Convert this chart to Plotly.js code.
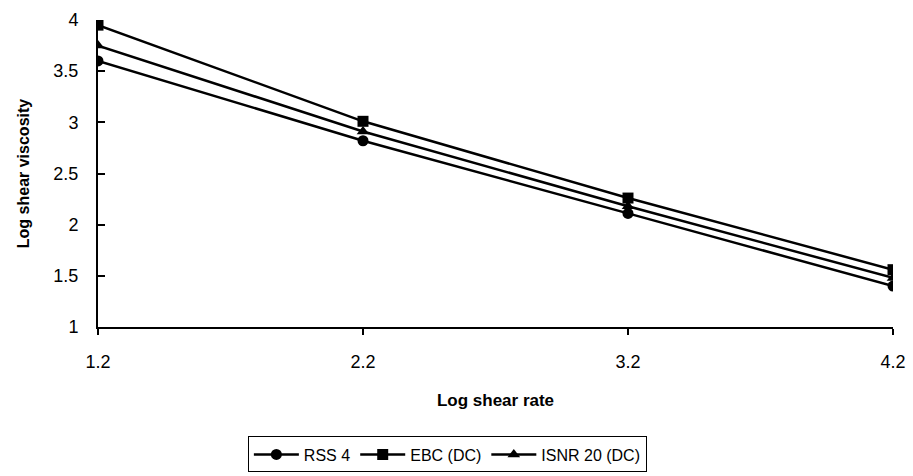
<!DOCTYPE html>
<html><head><meta charset="utf-8">
<script src="https://cdn.plot.ly/plotly-3.0.1.min.js"></script>
<style>html,body{margin:0;padding:0;background:#fff}#chart{width:913px;height:476px}</style>
</head><body><div id="chart"></div>
<script>
const shearRate = [1.2, 2.2, 3.2, 4.2];
const rss4 = [3.6, 2.82, 2.11, 1.40];
const ebc = [3.95, 3.01, 2.26, 1.56];
const isnr20 = [3.75, 2.91, 2.18, 1.48];
const seriesNames = ["RSS 4", "EBC (DC)", "ISNR 20 (DC)"];
const xTickText = ["1.2", "2.2", "3.2", "4.2"];
const yTicks = [1, 1.5, 2, 2.5, 3, 3.5, 4];
const yTickText = ["1", "1.5", "2", "2.5", "3", "3.5", "4"];

const font = {family: "Liberation Sans, Arial, sans-serif", color: "#000"};
function tr(y, name, sym){
  return {x: shearRate, y: y, name: name, type: "scatter", mode: "lines+markers",
    line: {color: "#000", width: 2.5}, marker: {symbol: sym, size: 11, color: "#000"}};
}
const data = [tr(rss4, seriesNames[0], "circle"), tr(ebc, seriesNames[1], "square"), tr(isnr20, seriesNames[2], "triangle-up")];
const layout = {
  width: 913, height: 476,
  margin: {l: 98, r: 20, t: 20, b: 149},
  paper_bgcolor: "#fff", plot_bgcolor: "#fff",
  font: Object.assign({size: 17}, font),
  showlegend: true,
  legend: {orientation: "h", xref: "container", yref: "container", x: 0.49, xanchor: "center", y: 0.083, yanchor: "top",
    bordercolor: "#000", borderwidth: 1, font: Object.assign({size: 16}, font),
    itemwidth: 45, tracegroupgap: 0},
  xaxis: {range: [1.2, 4.2], tickvals: shearRate, ticktext: xTickText, automargin: false,
    showgrid: false, zeroline: false, showline: true, linecolor: "#000", linewidth: 2,
    ticks: "outside", ticklen: 6, tickwidth: 2, tickcolor: "#000", ticklabelstandoff: 11,
    tickfont: Object.assign({size: 18}, font),
    title: {text: "<b>Log shear rate</b>", font: Object.assign({size: 17}, font), standoff: 24}},
  yaxis: {range: [1, 4], tickvals: yTicks, ticktext: yTickText, automargin: false,
    showgrid: false, zeroline: false, showline: true, linecolor: "#000", linewidth: 2,
    ticks: "inside", ticklen: 7, tickwidth: 2, tickcolor: "#000", ticklabelstandoff: 14,
    tickfont: Object.assign({size: 18}, font),
    title: {text: "<b>Log shear viscosity</b>", font: Object.assign({size: 16}, font), standoff: 20}}
};
Plotly.newPlot("chart", data, layout, {displayModeBar: false, staticPlot: true});
</script></body></html>
